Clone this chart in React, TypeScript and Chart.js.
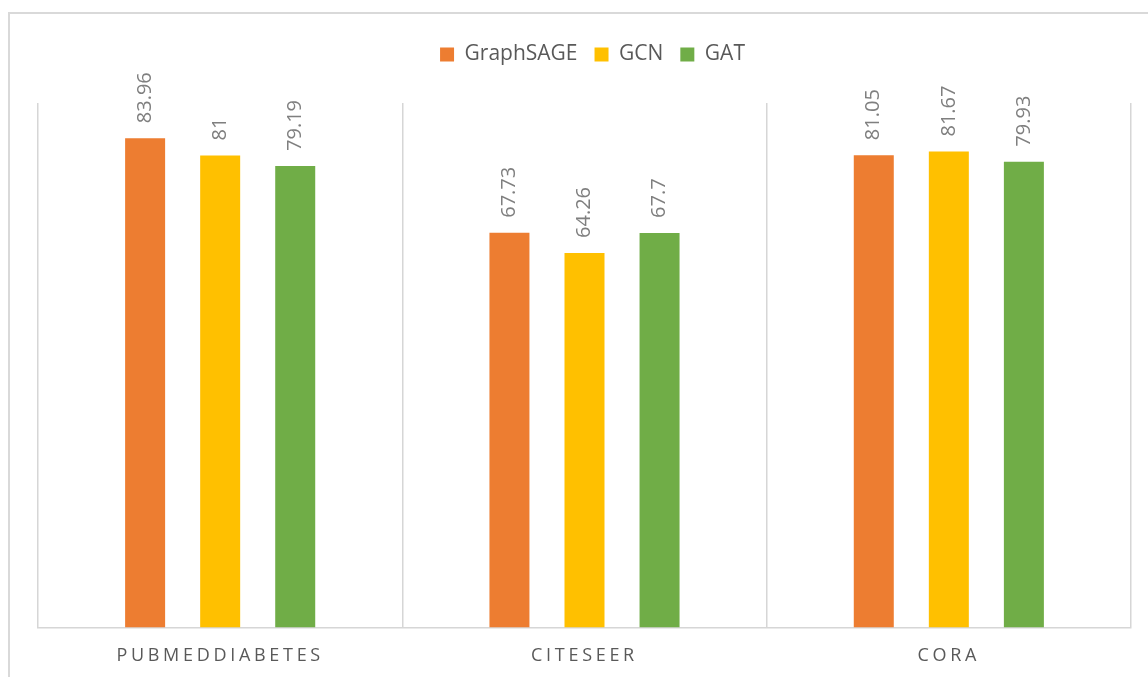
import React, { useEffect, useRef } from "react";
import { Chart, registerables, CategoryScale } from "chart.js";

Chart.register(...registerables);

class SpacedCategoryScale extends CategoryScale {
  static id = "spacedCategory";
  static defaults = (CategoryScale as any).defaults;
  drawLabels(chartArea: any) {
    const ctx = (this as any).ctx;
    ctx.save();
    ctx.letterSpacing = "3.7px";
    // @ts-ignore
    super.drawLabels(chartArea);
    ctx.restore();
  }
}
Chart.register(SpacedCategoryScale as any);

const categories = ["PUBMEDDIABETES", "CITESEER", "CORA"];
const seriesNames = ["GraphSAGE", "GCN", "GAT"];
const graphSageValues = [83.96, 67.73, 81.05];
const gcnValues = [81, 64.26, 81.67];
const gatValues = [79.19, 67.7, 79.93];
const seriesColors = ["#ED7D31", "#FFC000", "#70AD47"];
const yMin = 0;
const yMax = 90;

const valueLabels = {
  id: "valueLabels",
  afterDatasetsDraw(chart: any) {
    const ctx = chart.ctx;
    ctx.save();
    ctx.font = '20px "Open Sans"';
    ctx.fillStyle = "#7f7f7f";
    ctx.textAlign = "left";
    ctx.textBaseline = "middle";
    chart.data.datasets.forEach((ds: any, di: number) => {
      const meta = chart.getDatasetMeta(di);
      meta.data.forEach((bar: any, i: number) => {
        const v = ds.data[i];
        ctx.save();
        ctx.translate(bar.x, bar.y - 15);
        ctx.rotate(-Math.PI / 2);
        ctx.fillText(String(v), 0, 0);
        ctx.restore();
      });
    });
    ctx.restore();
  },
};

const legendMargin = {
  id: "legendMargin",
  beforeInit(chart: any) {
    const legend = chart.legend;
    if (!legend) return;
    const origFit = legend.fit;
    legend.fit = function () {
      origFit.call(this);
      this.height += 28;
    };
    const origDraw = legend.draw;
    legend.draw = function (...args: any[]) {
      const ctx = this.ctx;
      ctx.save();
      ctx.translate(8, 0);
      origDraw.apply(this, args);
      ctx.restore();
    };
  },
};

export default function App() {
  const ref = useRef<HTMLCanvasElement | null>(null);
  useEffect(() => {
    if (!ref.current) return;
    const allValues = [graphSageValues, gcnValues, gatValues];
    const chart = new Chart(ref.current, {
      type: "bar",
      data: {
        labels: categories,
        datasets: seriesNames.map((name, i) => ({
          label: name,
          data: allValues[i],
          backgroundColor: seriesColors[i],
          borderWidth: 0,
          categoryPercentage: 0.618,
          barPercentage: 0.533,
        })),
      },
      options: {
        animation: false,
        responsive: false,
        layout: { padding: { top: 27, left: 38, right: 17, bottom: 6 } },
        plugins: {
          tooltip: { enabled: false },
          legend: {
            position: "top",
            labels: {
              boxWidth: 14,
              boxHeight: 14,
              padding: 17,
              color: "#595959",
              font: { family: "Open Sans", size: 21 },
            },
          },
        },
        scales: {
          x: {
            type: "spacedCategory" as any,
            grid: {
              display: true,
              offset: true,
              drawTicks: false,
              color: "#d6d6d6",
              lineWidth: 1.5,
            },
            border: { display: true, color: "#d6d6d6", width: 1.5 },
            ticks: {
              color: "#595959",
              padding: 18,
              font: { family: "Open Sans", size: 18 },
              maxRotation: 0,
            },
          },
          y: {
            display: false,
            min: yMin,
            max: yMax,
          },
        },
      },
      plugins: [legendMargin, valueLabels],
    });
    return () => chart.destroy();
  }, []);

  return (
    <>
      <div
        style={{
          position: "fixed",
          left: 8,
          top: 12,
          width: 1160,
          height: 700,
          border: "2px solid #d9d9d9",
          boxSizing: "border-box",
        }}
      />
      <canvas
        ref={ref}
        width={1148}
        height={691}
        style={{ position: "fixed", left: 0, top: 0, display: "block" }}
      />
    </>
  );
}
